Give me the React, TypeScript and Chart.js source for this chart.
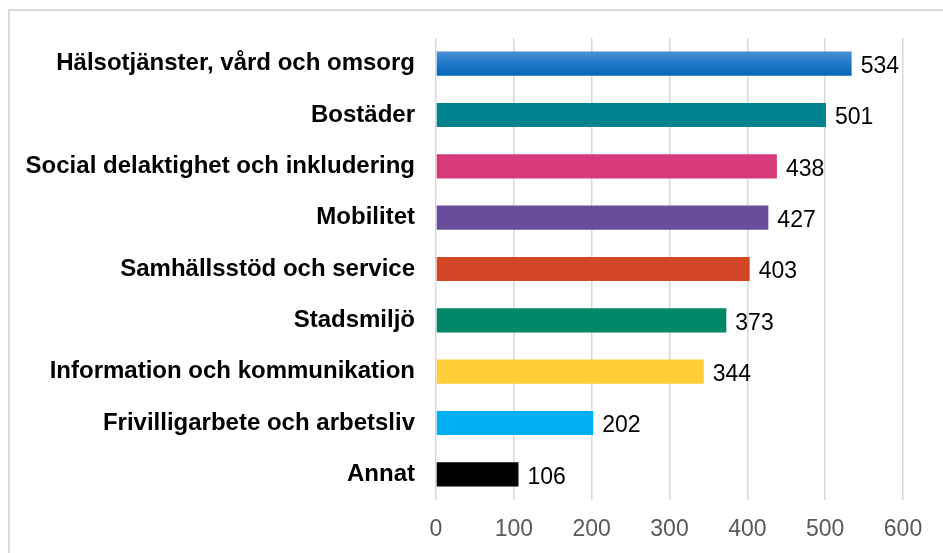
import React, { useEffect, useRef } from "react";
import { Chart, registerables } from "chart.js";

Chart.register(...registerables);

const categories = [
  "Hälsotjänster, vård och omsorg",
  "Bostäder",
  "Social delaktighet och inkludering",
  "Mobilitet",
  "Samhällsstöd och service",
  "Stadsmiljö",
  "Information och kommunikation",
  "Frivilligarbete och arbetsliv",
  "Annat",
];
const values = [534, 501, 438, 427, 403, 373, 344, 202, 106];
const barColors = [
  "#1a74c4",
  "#00838f",
  "#d63a7a",
  "#6a4c9c",
  "#d34726",
  "#008767",
  "#ffcd36",
  "#00b0f0",
  "#000000",
];
const xTicks = [0, 100, 200, 300, 400, 500, 600];

const valueLabels = {
  id: "valueLabels",
  afterDatasetsDraw(chart: any) {
    const ctx = chart.ctx;
    const meta = chart.getDatasetMeta(0);
    ctx.save();
    ctx.font = "23px 'Liberation Sans', Arial, sans-serif";
    ctx.fillStyle = "#000000";
    ctx.textAlign = "left";
    ctx.textBaseline = "middle";
    meta.data.forEach((bar: any, i: number) => {
      ctx.fillText(String(values[i]), bar.x + 9, bar.y + 3);
    });
    ctx.restore();
  },
};

export default function App() {
  const ref = useRef<HTMLCanvasElement | null>(null);
  useEffect(() => {
    if (!ref.current) return;
    const chart = new Chart(ref.current, {
      type: "bar",
      data: {
        labels: categories,
        datasets: [
          {
            data: values,
            backgroundColor: (c: any) => {
              const i = c.dataIndex;
              if (i === 0 && c.chart.chartArea) {
                const y = c.chart.scales.y.getPixelForTick(0);
                const g = c.chart.ctx.createLinearGradient(0, y - 12, 0, y + 12);
                g.addColorStop(0, "#4a8fd6");
                g.addColorStop(0.5, "#1f78c8");
                g.addColorStop(1, "#0066b6");
                return g;
              }
              return barColors[i];
            },
            borderWidth: 0,
            categoryPercentage: 1,
            barPercentage: 0.47,
          },
        ],
      },
      options: {
        indexAxis: "y",
        responsive: false,
        animation: false,
        maintainAspectRatio: false,
        layout: { padding: { top: 38, right: 40, left: 0, bottom: 0 } },
        plugins: { legend: { display: false }, tooltip: { enabled: false } },
        scales: {
          x: {
            min: 0,
            max: 600,
            afterBuildTicks: (s: any) => {
              s.ticks = xTicks.map((v) => ({ value: v }));
            },
            afterFit: (s: any) => {
              s.height = 53;
            },
            grid: { color: "#d9d9d9", lineWidth: 1.5, drawTicks: false },
            border: { display: false },
            ticks: {
              padding: 16,
              color: "#595959",
              font: { family: "'Liberation Sans', Arial, sans-serif", size: 23 },
            },
          },
          y: {
            afterFit: (s: any) => {
              s.width = 436;
            },
            grid: { display: false, drawTicks: false },
            border: { display: false },
            ticks: {
              padding: 21,
              color: "#000000",
              font: { family: "'Liberation Sans', Arial, sans-serif", size: 24, weight: "bold" },
            },
          },
        },
      },
      plugins: [valueLabels],
    });
    return () => chart.destroy();
  }, []);
  return (
    <div style={{ position: "fixed", left: 0, top: 0, width: 943, height: 553, overflow: "hidden", background: "#fff" }}>
      <div
        style={{
          position: "absolute",
          left: 8,
          top: 9,
          width: 960,
          height: 560,
          borderTop: "2px solid #d9d9d9",
          borderLeft: "2px solid #d9d9d9",
          boxSizing: "border-box",
        }}
      />
      <canvas ref={ref} width={943} height={553} style={{ position: "absolute", left: 0, top: 0 }} />
    </div>
  );
}
